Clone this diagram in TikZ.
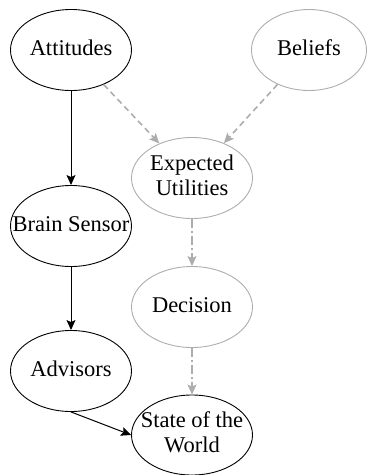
\documentclass[tikz,border=0pt]{standalone}
\usepackage{fontspec}
\setmainfont{Liberation Serif}
\usetikzlibrary{shapes.geometric,arrows.meta}
\newcommand{\zlab}[1]{\makebox[0pt]{\begin{tabular}{@{}c@{}}#1\end{tabular}}}
\begin{document}
\begin{tikzpicture}[x=1pt,y=-1pt,
  nodebase/.style={ellipse,minimum width=121pt,minimum height=81pt,inner sep=0pt,
    font=\fontsize{22.5}{25}\selectfont,text=black},
  blacknode/.style={nodebase,draw=black,line width=0.9pt},
  graynode/.style={nodebase,draw=black!32,line width=0.9pt},
  blackarrow/.style={draw=black,line width=1pt,-{Stealth[length=10pt,width=9pt,inset=2pt]}},
  grayarrow/.style={draw=black!32,line width=1.6pt,dash pattern=on 6pt off 4pt,-{Stealth[length=10pt,width=9pt,inset=2pt]}},
  grayarrowdd/.style={draw=black!32,line width=1.2pt,dash pattern=on 9pt off 3pt on 2pt off 3pt,-{Stealth[length=10pt,width=9pt,inset=2pt]}}
]
\useasboundingbox (0,0) rectangle (368,475);
\node[blacknode] (att) at (71,50) {\zlab{Attitudes}};
\node[graynode,minimum width=115pt] (bel) at (309,50) {\zlab{Beliefs}};
\node[graynode] (eu) at (192,178) {\zlab{Expected\\Utilities}};
\node[blacknode] (bs) at (71,226) {\zlab{Brain Sensor}};
\node[graynode] (dec) at (192,307) {\zlab{Decision}};
\node[blacknode] (adv) at (71,371) {\zlab{Advisors}};
\node[blacknode,minimum height=80pt] (sw) at (192,435) {\zlab{State of the\\World}};
\draw[blackarrow] (att) -- (bs);
\draw[blackarrow] (bs) -- (adv);
\draw[grayarrow] (att) -- (eu);
\draw[grayarrow] (bel) -- (eu);
\draw[grayarrowdd] (eu) -- (dec);
\draw[grayarrowdd] (dec) -- (sw);
\draw[blackarrow] (adv.south) -- (sw.west);
\end{tikzpicture}
\end{document}
